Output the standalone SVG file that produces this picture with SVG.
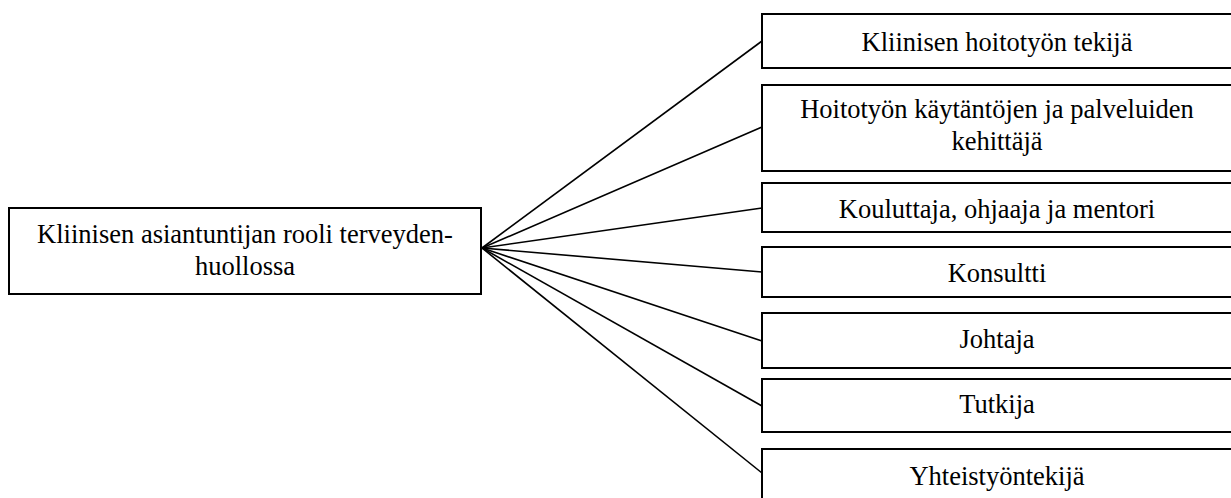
<svg xmlns="http://www.w3.org/2000/svg" width="1231" height="498" viewBox="0 0 1231 498">
<style>
.box{fill:#fff;stroke:#000;stroke-width:2}
.t{font-family:"Liberation Serif","Times New Roman",serif;font-size:26.5px;fill:#000;text-anchor:middle}
.c line{stroke:#000;stroke-width:1.6}
</style>
<rect width="1231" height="498" fill="#fff"/>
<g class="c" id="connectors">
<line x1="482" y1="248" x2="762" y2="41"/>
<line x1="482" y1="248" x2="762" y2="127"/>
<line x1="482" y1="248" x2="762" y2="208"/>
<line x1="482" y1="248" x2="762" y2="272"/>
<line x1="482" y1="248" x2="762" y2="341"/>
<line x1="482" y1="248" x2="762" y2="406"/>
<line x1="482" y1="248" x2="762" y2="473"/>
</g>
<g id="root">
<rect class="box" x="9" y="208" width="472" height="86"/>
<text class="t" x="245" y="243">Kliinisen asiantuntijan rooli terveyden-</text>
<text class="t" x="245" y="275">huollossa</text>
</g>
<g id="n1">
<rect class="box" x="762" y="14" width="480" height="54"/>
<text class="t" x="997" y="51">Kliinisen hoitotyön tekijä</text>
</g>
<g id="n2">
<rect class="box" x="762" y="85" width="480" height="86"/>
<text class="t" x="997" y="118">Hoitotyön käytäntöjen ja palveluiden</text>
<text class="t" x="997" y="150">kehittäjä</text>
</g>
<g id="n3">
<rect class="box" x="762" y="183" width="480" height="49"/>
<text class="t" x="997" y="218">Kouluttaja, ohjaaja ja mentori</text>
</g>
<g id="n4">
<rect class="box" x="762" y="247" width="480" height="50"/>
<text class="t" x="997" y="282">Konsultti</text>
</g>
<g id="n5">
<rect class="box" x="762" y="313" width="480" height="55"/>
<text class="t" x="997" y="348">Johtaja</text>
</g>
<g id="n6">
<rect class="box" x="762" y="379" width="480" height="53"/>
<text class="t" x="997" y="413">Tutkija</text>
</g>
<g id="n7">
<rect class="box" x="762" y="449" width="480" height="60"/>
<text class="t" x="997" y="485">Yhteistyöntekijä</text>
</g>
</svg>
